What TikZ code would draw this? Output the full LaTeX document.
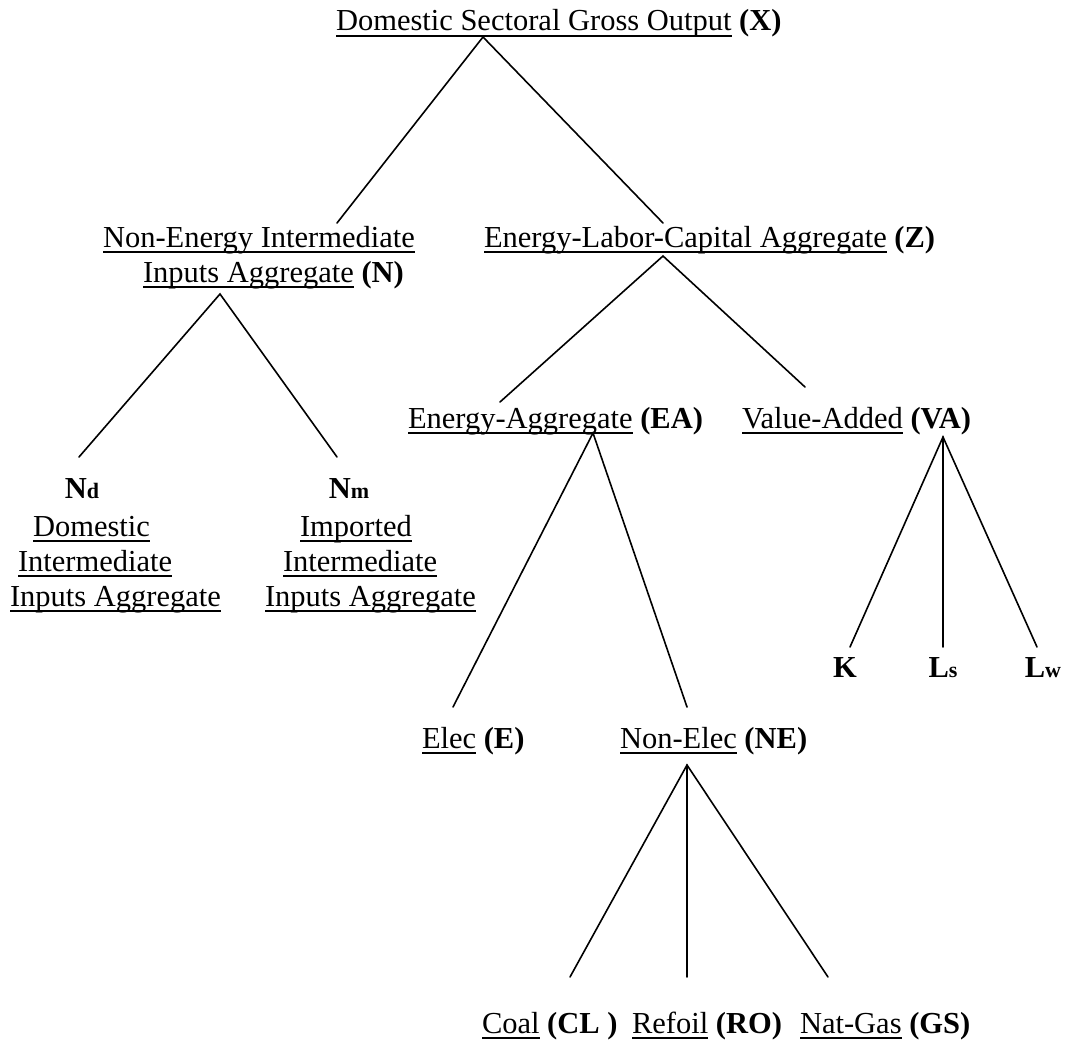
\documentclass[tikz,border=0pt]{standalone}
\usepackage{fontspec}
\setmainfont{Liberation Serif}
% underlined text: a rule 4.2pt--6pt below the baseline, as wide as the text
\newcommand{\uln}[1]{\setbox0\hbox{#1}\rlap{\vrule width\wd0 height -4.2pt depth 6pt}\box0\relax}
\newcommand{\smallsub}[1]{{\fontsize{22}{26}\selectfont #1}}
\begin{document}
\begin{tikzpicture}[x=1pt,y=-1pt,
  lbl/.style={inner sep=0pt, outer sep=0pt, anchor=base west,
              font=\fontsize{30.5}{35}\selectfont},
  var/.style={lbl, anchor=base, font=\fontsize{30.5}{35}\selectfont\bfseries},
  branch/.style={line width=1.6pt, line cap=round}]
\useasboundingbox[fill=white] (0,0) rectangle (1065,1043);

% labels of the nesting tree
\node[lbl] (X)  at (336,31)  {\uln{Domestic Sectoral Gross Output} \textbf{(X)}};
\node[lbl] (N1) at (103,247) {\uln{Non-Energy Intermediate}};
\node[lbl] (N2) at (143,282) {\uln{Inputs Aggregate} \textbf{(N)}};
\node[lbl] (Z)  at (484,247) {\uln{Energy-Labor-Capital Aggregate} \textbf{(Z)}};
\node[lbl] (EA) at (408,428) {\uln{Energy-Aggregate} \textbf{(EA)}};
\node[lbl] (VA) at (742,428) {\uln{Value-Added} \textbf{(VA)}};

\node[var] (Nd)  at (82,498)  {N\smallsub{d}};
\node[lbl] (Nd1) at (33,536)  {\uln{Domestic}};
\node[lbl] (Nd2) at (18,571)  {\uln{Intermediate}};
\node[lbl] (Nd3) at (10,606)  {\uln{Inputs Aggregate}};

\node[var] (Nm)  at (349,498) {N\smallsub{m}};
\node[lbl] (Nm1) at (300,536) {\uln{Imported}};
\node[lbl] (Nm2) at (283,571) {\uln{Intermediate}};
\node[lbl] (Nm3) at (265,606) {\uln{Inputs Aggregate}};

\node[var] (K)  at (845,677)  {K};
\node[var] (Ls) at (943,677)  {L\smallsub{s}};
\node[var] (Lw) at (1043,677) {L\smallsub{w}};

\node[lbl] (E)  at (422,748) {\uln{Elec} \textbf{(E)}};
\node[lbl] (NE) at (620,748) {\uln{Non-Elec} \textbf{(NE)}};

\node[lbl] (CL) at (482,1033) {\uln{Coal} \textbf{(CL )}};
\node[lbl] (RO) at (632,1033) {\uln{Refoil} \textbf{(RO)}};
\node[lbl] (GS) at (800,1033) {\uln{Nat-Gas} \textbf{(GS)}};

% branch points and branch ends
\coordinate (X-root)  at (483,37);
\coordinate (N-top)   at (337,223);
\coordinate (Z-top)   at (663,223);
\coordinate (N-root)  at (220,294);
\coordinate (Nd-top)  at (79,457);
\coordinate (Nm-top)  at (337,457);
\coordinate (Z-root)  at (663,256);
\coordinate (EA-top)  at (500,402);
\coordinate (VA-top)  at (805,387);
\coordinate (EA-root) at (593,433);
\coordinate (E-top)   at (453,707);
\coordinate (NE-top)  at (687,707);
\coordinate (VA-root) at (943,437);
\coordinate (K-top)   at (850,647);
\coordinate (Ls-top)  at (943,647);
\coordinate (Lw-top)  at (1037,647);
\coordinate (NE-root) at (687,765);
\coordinate (CL-top)  at (570,977);
\coordinate (RO-top)  at (687,977);
\coordinate (GS-top)  at (828,977);

% branches
\draw[branch] (N-top) -- (X-root) -- (Z-top);
\draw[branch] (Nd-top) -- (N-root) -- (Nm-top);
\draw[branch] (EA-top) -- (Z-root) -- (VA-top);
\draw[branch] (E-top) -- (EA-root) -- (NE-top);
\draw[branch] (K-top) -- (VA-root) -- (Lw-top);
\draw[branch] (VA-root) -- (Ls-top);
\draw[branch] (CL-top) -- (NE-root) -- (GS-top);
\draw[branch] (NE-root) -- (RO-top);
\end{tikzpicture}
\end{document}
